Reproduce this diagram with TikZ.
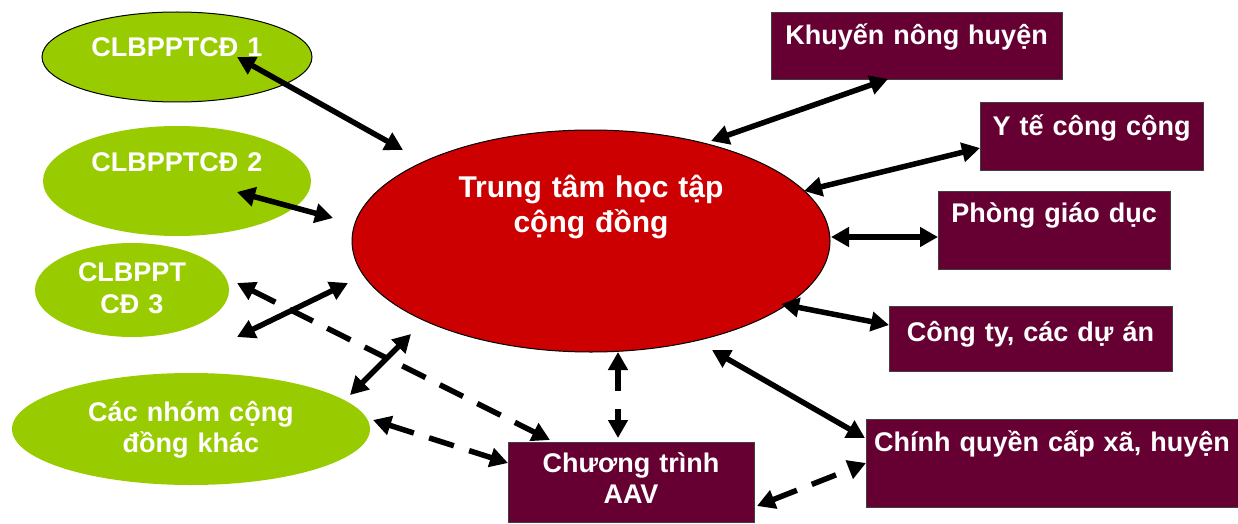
\documentclass[tikz,border=0pt]{standalone}
\usepackage{fontspec}
\setmainfont{Liberation Sans}
\usetikzlibrary{arrows.meta,shapes.geometric}
\definecolor{lgreen}{HTML}{99CC00}
\definecolor{cred}{HTML}{CC0000}
\definecolor{maroon}{HTML}{660033}
\tikzset{
  base/.style={inner sep=0pt, outer sep=0pt, align=center, text=white,
    font=\bfseries\fontsize{27}{31}\selectfont},
  club/.style={base, ellipse, fill=lgreen},
  org/.style={base, rectangle, fill=maroon, draw=black!75, line width=0.8pt},
  arr/.style={line width=5.5pt,
    {Triangle[length=18pt,width=19pt]}-{Triangle[length=18pt,width=19pt]}},
  darr/.style={arr, dash pattern=on 26pt off 16pt},
}
\begin{document}
\begin{tikzpicture}[x=1pt,y=-1pt]
\useasboundingbox (0,0) rectangle (1238,524);
% clubs
\node[club, draw=black, line width=1pt, minimum width=270pt, minimum height=90pt,
  text width=180pt, text height=10pt, text depth=10.6pt] (c1) at (177,57) {CLBPPTCĐ 1};
\node[club, minimum width=268pt, minimum height=110pt,
  text width=180pt, text height=5pt, text depth=23.6pt] (c2) at (177,181) {CLBPPTCĐ 2};
\node[club, minimum width=194pt, minimum height=94pt,
  text width=130pt, text height=5pt, text depth=21.6pt, font=\bfseries\fontsize{27}{32}\selectfont] (c3) at (132,290) {CLBPPT\\CĐ 3};
\node[club, minimum width=358pt, minimum height=112pt,
  text width=240pt, text height=5pt, text depth=19.6pt] (cn) at (191,429) {Các nhóm cộng\\đồng khác};
% centre
\node[club, fill=cred, draw=black, line width=1pt, minimum width=478pt, minimum height=222pt,
  text width=300pt, text height=5pt, text depth=91.6pt,
  font=\bfseries\fontsize{30}{35}\selectfont] (red) at (591,241) {Trung tâm học tập\\cộng đồng};
% organisations
\node[org, text width=291pt, text height=32.7pt, text depth=34.3pt] (kn) at (916.5,45.5) {Khuyến nông huyện};
\node[org, text width=223pt, text height=33.7pt, text depth=34.3pt] (yt) at (1091.5,136) {Y tế công cộng};
\node[org, text width=232pt, text height=31.7pt, text depth=46.3pt] (pgd) at (1054,230) {Phòng giáo dục};
\node[org, text width=283pt, text height=35.7pt, text depth=29.3pt] (ct) at (1030.5,338.5) {Công ty, các dự án};
\node[org, text width=372pt, text height=32.7pt, text depth=55.3pt] (cq) at (1052,463) {Chính quyền cấp xã, huyện};
\node[org, text width=246pt, text height=30.7pt, text depth=49.3pt] (aav) at (631,482) {Chương trình\\AAV};
% connectors
\draw[arr] ([shift={(60,0)}]c1.center) -- ([shift={(-188,-91)}]red.center);
\draw[arr] ([shift={(60,11)}]c2.center) -- ([shift={(-258,-23)}]red.center);
\draw[arr] ([shift={(105,47)}]c3.center) -- ([shift={(-243,42)}]red.center);
\draw[darr] ([shift={(105,-7)}]c3.center) -- ([shift={(-81,-42)}]aav.center);
\draw[arr] ([shift={(159,-34)}]cn.center) -- ([shift={(-180,93)}]red.center);
\draw[darr] ([shift={(182,-9)}]cn.center) -- ([shift={(-123,-19)}]aav.center);
\draw[darr, dash pattern=on 22pt off 18pt] ([shift={(27,111)}]red.center) -- ([shift={(-13,-44)}]aav.center);
\draw[arr] ([shift={(120,-100)}]red.center) -- ([shift={(-28.5,33.5)}]kn.center);
\draw[arr] ([shift={(213,-50)}]red.center) -- ([shift={(-111.5,12)}]yt.center);
\draw[arr] ([shift={(240,-4)}]red.center) -- ([shift={(-116,7)}]pgd.center);
\draw[arr] ([shift={(190,63)}]red.center) -- ([shift={(-141.5,-13.5)}]ct.center);
\draw[arr] ([shift={(121,109)}]red.center) -- ([shift={(-187,-25)}]cq.center);
\draw[darr] ([shift={(126,24)}]aav.center) -- ([shift={(-186,0)}]cq.center);
\end{tikzpicture}
\end{document}
